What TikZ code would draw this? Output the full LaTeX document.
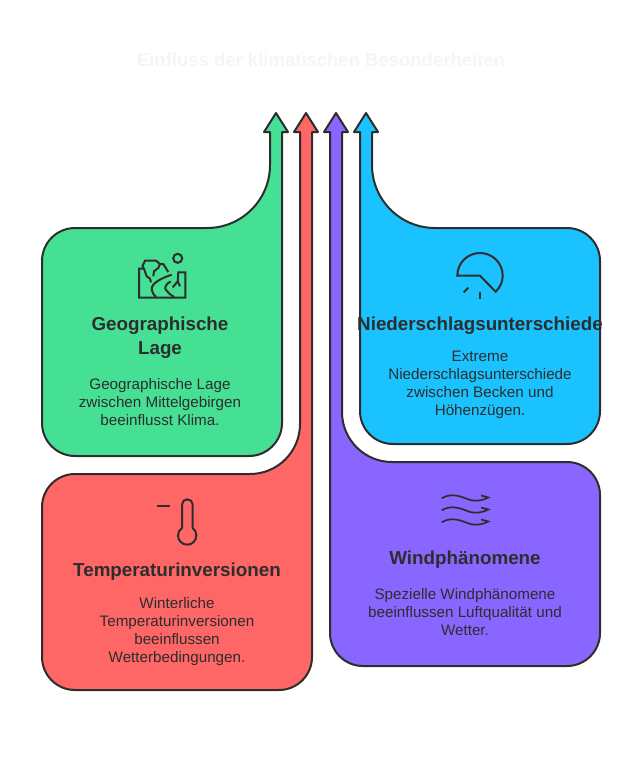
\documentclass[tikz,border=0pt]{standalone}
\usepackage{fontspec}
\setmainfont{Liberation Sans}
\definecolor{inkline}{HTML}{2D2D2D}
\definecolor{titlegray}{HTML}{F5F5F5}
\definecolor{greenfill}{HTML}{46E095}
\definecolor{redfill}{HTML}{FF6666}
\definecolor{purplefill}{HTML}{8866FF}
\definecolor{bluefill}{HTML}{1AC3FF}
\tikzset{
	panel/.style={draw=inkline, line width=2pt, line join=round, fill=#1},
	icon/.style={draw=inkline, line width=2pt, line join=miter},
	heading/.style={text=inkline, font=\fontsize{18.8}{24}\selectfont\bfseries, align=center, inner sep=0pt, anchor=north},
	body/.style={text=inkline, font=\fontsize{15.2}{18}\selectfont, align=center, inner sep=0pt, anchor=north},
}
\begin{document}
\begin{tikzpicture}[x=1pt, y=-1pt]
	\useasboundingbox (0, 0) rectangle (642, 768) ;

	\node[text=titlegray, font=\fontsize{18.5}{24}\selectfont\bfseries] (title) at (321, 60) {Einfluss der klimatischen Besonderheiten} ;

	% arrows with their panels
	\draw[panel=greenfill] (276, 113) -- (288, 132) -- (282, 132) [rounded corners=33] -- (282, 456) -- (42, 456) -- (42, 228) [rounded corners=63] -- (270, 228) [sharp corners] -- (270, 132) -- (264, 132) -- cycle ;
	\draw[panel=redfill] (306, 113) -- (318, 132) -- (312, 132) [rounded corners=33] -- (312, 690) -- (42, 690) -- (42, 474) [rounded corners=50] -- (300, 474) [sharp corners] -- (300, 132) -- (294, 132) -- cycle ;
	\draw[panel=purplefill] (336, 113) -- (348, 132) -- (342, 132) [rounded corners=50] -- (342, 462) [rounded corners=33] -- (600, 462) -- (600, 666) -- (330, 666) [sharp corners] -- (330, 132) -- (324, 132) -- cycle ;
	\draw[panel=bluefill] (366, 113) -- (378, 132) -- (372, 132) [rounded corners=63] -- (372, 228) [rounded corners=33] -- (600, 228) -- (600, 444) -- (360, 444) [sharp corners] -- (360, 132) -- (354, 132) -- cycle ;

	% icons
	\draw[icon] (144, 268.7) -- (139, 268.7) -- (139, 297.5) -- (185.3, 297.5) -- (185.3, 272.3) -- (178.3, 272.3) -- (177.7, 281.3) -- (172.7, 287.3) ;
	\draw[icon] (177.7, 281.3) -- (180, 286.3) ;
	\draw[icon] (144, 268.7) -- (142.5, 266) -- (145, 260.7) -- (156, 260.7) -- (160, 264) -- (163.3, 264) -- (168.3, 272) ;
	\draw[icon] (144, 268.7) -- (146.7, 276.3) -- (150, 278.7) -- (151, 282.3) ;
	\draw[icon] (160, 264) -- (158.3, 268) -- (154, 271.3) -- (153.3, 276.3) ;
	\draw[icon] (171.7, 274.7) .. controls (162, 278) and (151, 283) .. (151.7, 289.7) .. controls (152, 292.5) and (154, 295) .. (156, 297) ;
	\draw[icon] (170.7, 281.3) .. controls (166, 284) and (164, 288) .. (166, 290) .. controls (168, 293) and (171, 295) .. (174, 297) ;
	\draw[icon] (177.7, 258.3) circle (4.5) ;

	\draw[icon] (457.3, 275.7) .. controls (457.3, 263) and (467.5, 253) .. (480, 253) .. controls (492.5, 253) and (502.7, 263) .. (502.7, 275.7) .. controls (502.7, 282) and (500, 287.5) .. (495.7, 291.7) -- (480, 275.7) -- cycle ;
	\draw[icon] (468.3, 287.7) -- (463.7, 292.3) ;
	\draw[icon] (480, 292.3) -- (480, 298.7) ;

	\draw[icon] (157.3, 506) -- (170, 506) ;
	\draw[icon] (182, 528) -- (182, 504.6) .. controls (182, 501.5) and (184.4, 499.3) .. (187.3, 499.3) .. controls (190.2, 499.3) and (192.7, 501.5) .. (192.7, 504.6) -- (192.7, 528) .. controls (195, 529.5) and (196.3, 532.5) .. (196.3, 535.5) .. controls (196.3, 540.6) and (192.2, 544.7) .. (187.3, 544.7) .. controls (182.2, 544.7) and (178, 540.6) .. (178, 535.5) .. controls (178, 532.5) and (179.5, 529.5) .. (182, 528) ;

	\foreach \waveoff in {0, 12, 24} {
		\draw[icon, line width=1.7pt] (441.7, 498.3 + \waveoff) .. controls (452, 492 + \waveoff) and (462, 497 + \waveoff) .. (470, 500 + \waveoff) .. controls (476, 501.5 + \waveoff) and (483, 500.5 + \waveoff) .. (488.3, 497.5 + \waveoff) -- (481, 495.5 + \waveoff) ;
	}

	% texts
	\node[heading] (geohead) at (160, 316.5) {Geographische\\Lage} ;
	\node[body] (geotext) at (160, 378) {Geographische Lage\\zwischen Mittelgebirgen\\beeinflusst Klima.} ;

	\node[heading] (niederhead) at (480, 316.5) {Niederschlagsunterschiede} ;
	\node[body] (niedertext) at (480, 351) {Extreme\\Niederschlagsunterschiede\\zwischen Becken und\\Höhenzügen.} ;

	\node[heading] (temphead) at (177, 562.5) {Temperaturinversionen} ;
	\node[body] (temptext) at (177, 597) {Winterliche\\Temperaturinversionen\\beeinflussen\\Wetterbedingungen.} ;

	\node[heading] (windhead) at (465, 550.5) {Windphänomene} ;
	\node[body] (windtext) at (465, 588) {Spezielle Windphänomene\\beeinflussen Luftqualität und\\Wetter.} ;
\end{tikzpicture}
\end{document}
